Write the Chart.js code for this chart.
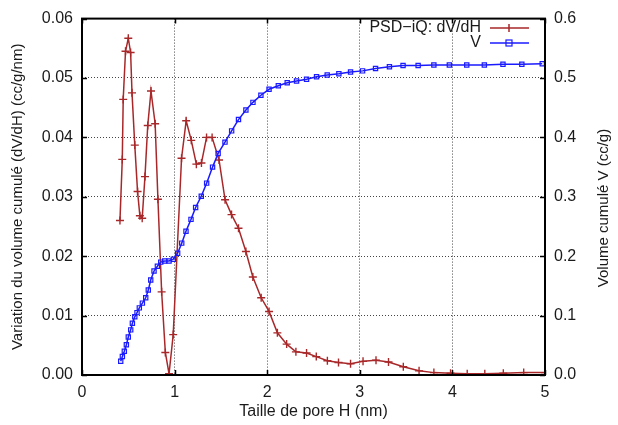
<!DOCTYPE html>
<html>
<head>
<meta charset="utf-8">
<script src="https://cdn.jsdelivr.net/npm/chart.js@4.4.1/dist/chart.umd.min.js"></script>
<style>
  html, body { margin: 0; padding: 0; background: #fff; }
  #wrap { width: 618px; height: 425px; }
</style>
</head>
<body>
<div id="wrap"><canvas id="chart"></canvas></div>
<script>
// PSD-iQ dV/dH (left axis)
const psdX = [0.41, 0.435, 0.445, 0.47, 0.50, 0.525, 0.54, 0.57, 0.60, 0.625, 0.65, 0.68, 0.71, 0.745, 0.79, 0.82,
  0.86, 0.90, 0.94, 0.985, 1.075, 1.125, 1.18, 1.235, 1.29, 1.345, 1.405, 1.48, 1.545, 1.615, 1.69, 1.77, 1.845,
  1.935, 2.02, 2.11, 2.21, 2.31, 2.425, 2.53, 2.65, 2.77, 2.90, 3.035, 3.175, 3.31, 3.47, 3.64, 3.80, 3.98, 4.16,
  4.35, 4.55, 4.77, 5.0];
const psdY = [0.0260, 0.0363, 0.0464, 0.0545, 0.0567, 0.0543, 0.0475, 0.0387, 0.0309, 0.0268, 0.0264, 0.0334,
  0.0420, 0.0478, 0.0423, 0.0296, 0.0140, 0.0038, 0.0002, 0.0068, 0.0365, 0.0428, 0.0395, 0.0355, 0.0357, 0.0400,
  0.0400, 0.0362, 0.0295, 0.0270, 0.0247, 0.0208, 0.0165, 0.0130, 0.0107, 0.0071, 0.0052, 0.0039, 0.0037, 0.0031,
  0.0024, 0.0021, 0.0019, 0.0023, 0.0025, 0.0022, 0.0014, 0.0007, 0.0004, 0.0003, 0.0002, 0.0002, 0.0003, 0.0004,
  0.0004];

// cumulative volume V (right axis)
const volX = [0.418, 0.436, 0.457, 0.479, 0.50, 0.526, 0.544, 0.57, 0.594, 0.619, 0.652, 0.688, 0.716, 0.742,
  0.778, 0.814, 0.85, 0.893, 0.94, 0.986, 1.033, 1.077, 1.123, 1.177, 1.227, 1.288, 1.346, 1.41, 1.47, 1.544,
  1.616, 1.69, 1.77, 1.846, 1.932, 2.02, 2.12, 2.216, 2.317, 2.425, 2.533, 2.648, 2.774, 2.90, 3.03, 3.17, 3.32,
  3.467, 3.63, 3.80, 3.967, 4.155, 4.345, 4.546, 4.75, 4.97];
const volY = [0.023, 0.031, 0.040, 0.051, 0.064, 0.076, 0.087, 0.098, 0.105, 0.113, 0.121, 0.130, 0.143, 0.160,
  0.175, 0.183, 0.190, 0.192, 0.192, 0.195, 0.205, 0.222, 0.242, 0.262, 0.282, 0.301, 0.323, 0.350, 0.373, 0.392,
  0.411, 0.430, 0.446, 0.459, 0.471, 0.481, 0.487, 0.492, 0.495, 0.498, 0.502, 0.505, 0.507, 0.510, 0.512, 0.516,
  0.519, 0.521, 0.521, 0.522, 0.522, 0.522, 0.522, 0.523, 0.523, 0.524];

const xTicks = [0, 1, 2, 3, 4, 5];
const yTicks = [0, 0.01, 0.02, 0.03, 0.04, 0.05, 0.06];
const y2Ticks = [0, 0.1, 0.2, 0.3, 0.4, 0.5, 0.6];
const seriesNames = ['PSD\u2212iQ: dV/dH', 'V'];

const RED = '#a8282a';
const BLUE = '#1a1aff';
const TXT = '#1a1a1a';
const FONT = 'Liberation Sans, Arial, Helvetica, sans-serif';

const toPts = (xs, ys) => xs.map((x, i) => ({ x: x, y: ys[i] }));

// frame, inward ticks, right title and gnuplot-style key
const framePlugin = {
  id: 'frame',
  afterDraw(chart) {
    const { ctx, chartArea: a, scales } = chart;
    ctx.save();
    ctx.strokeStyle = '#000';
    ctx.lineWidth = 1.5;
    const t = 5;
    ctx.beginPath();
    scales.y.ticks.forEach((tk) => {
      const p = Math.round(scales.y.getPixelForValue(tk.value)) + 0.5;
      ctx.moveTo(a.left, p); ctx.lineTo(a.left + t, p);
    });
    scales.y2.ticks.forEach((tk) => {
      const p = Math.round(scales.y2.getPixelForValue(tk.value)) + 0.5;
      ctx.moveTo(a.right, p); ctx.lineTo(a.right - t, p);
    });
    scales.x.ticks.forEach((tk) => {
      const p = Math.round(scales.x.getPixelForValue(tk.value)) + 0.5;
      ctx.moveTo(p, a.bottom); ctx.lineTo(p, a.bottom - t);
      ctx.moveTo(p, a.top); ctx.lineTo(p, a.top + t);
    });
    ctx.stroke();
    ctx.lineWidth = 2;
    ctx.strokeRect(a.left, a.top, a.right - a.left, a.bottom - a.top);

    // right axis title, reading bottom to top
    ctx.fillStyle = TXT;
    ctx.font = '15px ' + FONT;
    ctx.textAlign = 'center';
    ctx.textBaseline = 'middle';
    ctx.translate(604, 208);
    ctx.rotate(-Math.PI / 2);
    ctx.fillText('Volume cumulé V (cc/g)', 0, 0);
    ctx.restore();

    // key
    ctx.save();
    ctx.font = '16px ' + FONT;
    ctx.fillStyle = TXT;
    ctx.textAlign = 'right';
    ctx.textBaseline = 'middle';
    const kx = 481, ky = [28, 43], colors = [RED, BLUE];
    seriesNames.forEach((name, i) => {
      ctx.fillText(name, kx, ky[i]);
      ctx.strokeStyle = colors[i];
      ctx.lineWidth = 1.5;
      ctx.beginPath();
      ctx.moveTo(490, ky[i]); ctx.lineTo(529, ky[i]);
      if (i === 0) {
        ctx.moveTo(505, ky[i]); ctx.lineTo(513, ky[i]);
        ctx.moveTo(509, ky[i] - 4); ctx.lineTo(509, ky[i] + 4);
      }
      ctx.stroke();
      if (i === 1) {
        ctx.lineWidth = 1.2;
        ctx.strokeRect(506, ky[i] - 3, 6, 6);
      }
    });
    ctx.restore();
  },
};

const tickFont = { family: FONT, size: 16 };
const titleFont = { family: FONT, size: 15 };
const gridOpts = { color: '#444', lineWidth: 1, drawTicks: false };
const dotted = { display: false, dash: [1, 2] };

const ctx = document.getElementById('chart').getContext('2d');
new Chart(ctx, {
  type: 'scatter',
  data: {
    datasets: [
      {
        label: seriesNames[0],
        data: toPts(psdX, psdY),
        yAxisID: 'y',
        showLine: true,
        borderColor: RED,
        borderWidth: 1.5,
        pointStyle: 'cross',
        pointRadius: 4,
        pointBorderWidth: 1.4,
        pointBorderColor: RED,
        order: 2,
      },
      {
        label: seriesNames[1],
        data: toPts(volX, volY),
        yAxisID: 'y2',
        showLine: true,
        borderColor: BLUE,
        borderWidth: 1.5,
        pointStyle: 'rect',
        pointRadius: 3,
        pointBorderWidth: 1.2,
        pointBorderColor: BLUE,
        pointBackgroundColor: 'rgba(255,255,255,0)',
        order: 1,
      },
    ],
  },
  options: {
    responsive: true,
    maintainAspectRatio: false,
    animation: false,
    layout: { padding: { top: 15, right: 0, bottom: 0, left: 0 } },
    plugins: {
      legend: { display: false },
      tooltip: { enabled: false },
    },
    scales: {
      x: {
        type: 'linear',
        min: 0,
        max: 5,
        afterFit: (s) => { s.height = 50; },
        afterBuildTicks: (s) => { s.ticks = xTicks.map((v) => ({ value: v })); },
        grid: gridOpts,
        border: dotted,
        ticks: { color: TXT, padding: 8, font: tickFont, callback: (v) => String(v) },
        title: {
          display: true,
          text: 'Taille de pore H (nm)',
          color: TXT,
          font: { family: FONT, size: 16 },
          padding: { top: 0, bottom: 4 },
        },
      },
      y: {
        position: 'left',
        min: 0,
        max: 0.06,
        afterFit: (s) => { s.width = 82; },
        afterBuildTicks: (s) => { s.ticks = yTicks.map((v) => ({ value: v })); },
        grid: gridOpts,
        border: dotted,
        ticks: { color: TXT, padding: 9, font: tickFont, callback: (v) => v.toFixed(2) },
        title: {
          display: true,
          text: 'Variation du volume cumulé (dV/dH) (cc/g/nm)',
          color: TXT,
          font: titleFont,
          padding: { top: 9, bottom: 0 },
        },
      },
      y2: {
        position: 'right',
        min: 0,
        max: 0.6,
        afterFit: (s) => { s.width = 73; },
        afterBuildTicks: (s) => { s.ticks = y2Ticks.map((v) => ({ value: v })); },
        grid: { drawOnChartArea: false, drawTicks: false },
        border: { display: false },
        ticks: { color: TXT, padding: 9, font: tickFont, callback: (v) => v.toFixed(1) },
      },
    },
  },
  plugins: [framePlugin],
});
</script>
</body>
</html>
